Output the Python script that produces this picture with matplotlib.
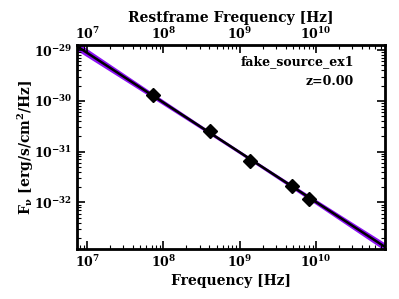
import numpy as np
import matplotlib
matplotlib.use("Agg")
import matplotlib.pyplot as plt

# data
freq = [7.3e7, 4.1e8, 1.37e9, 4.87e9, 8.1e9]
flux = [1.33e-30, 2.52e-31, 6.56e-32, 2.14e-32, 1.15e-32]
model_norm = 0.97e-31      # flux at pivot
model_pivot = 1.0e9
model_index = -0.98
index_err = 0.036
norm_err = 0.035           # dex
source_name = "fake_source_ex1"
redshift = 0.00

plt.rcParams['font.family'] = 'DejaVu Serif'
plt.rcParams['font.weight'] = 'bold'
plt.rcParams['mathtext.fontset'] = 'dejavuserif'
plt.rcParams['mathtext.default'] = 'bf'

fig = plt.figure(figsize=(3.99, 2.99), dpi=100)
ax = fig.add_axes([77/399, 1-249/299, (385-77)/399, (249-45)/299])

xlim = (10**6.869, 10**10.904)
ylim = (10**-32.92, 10**-28.9)
nu = np.logspace(np.log10(xlim[0]) - 0.1, np.log10(xlim[1]) + 0.1, 200)
lx = np.log10(nu / model_pivot)
base = np.log10(model_norm) + model_index * lx
spread = np.sqrt(norm_err**2 + (index_err * lx)**2)
ax.fill_between(nu, 10**(base - spread), 10**(base + spread), color='#8c10f5', lw=0, zorder=1)
ax.plot(nu, 10**base, color='black', lw=1.8, zorder=2)
ax.plot(freq, flux, 'D', color='black', ms=7, zorder=3)

ax.set_xscale('log')
ax.set_yscale('log')
ax.set_xlim(*xlim)
ax.set_ylim(*ylim)
ax.set_xlabel('Frequency [Hz]', fontsize=10, fontweight='bold', labelpad=3)
ax.set_ylabel(r'F$_\nu$ [erg/s/cm$^2$/Hz]', fontsize=10, fontweight='bold', labelpad=-2)

for s in ax.spines.values():
    s.set_linewidth(2)
ax.tick_params(which='both', direction='in', right=True, labelsize=9)
ax.tick_params(which='major', length=6, width=1.2)
ax.tick_params(which='minor', length=3, width=0.8)

ax2 = ax.twiny()
ax2.set_xscale('log')
ax2.set_xlim(xlim[0] / (1 + redshift), xlim[1] / (1 + redshift))
ax2.set_xlabel('Restframe Frequency [Hz]', fontsize=10, fontweight='bold', labelpad=3)
ax2.tick_params(which='both', direction='in', labelsize=9, pad=2)
ax2.tick_params(which='major', length=6, width=1.2)
ax2.tick_params(which='minor', length=3, width=0.8)

ax.text(0.899, 0.917, source_name, transform=ax.transAxes, ha='right', va='center', fontsize=9, fontweight='bold')
ax.text(0.899, 0.819, 'z=%.2f' % redshift, transform=ax.transAxes, ha='right', va='center', fontsize=9, fontweight='bold')

fig.savefig('out.png', dpi=100)
